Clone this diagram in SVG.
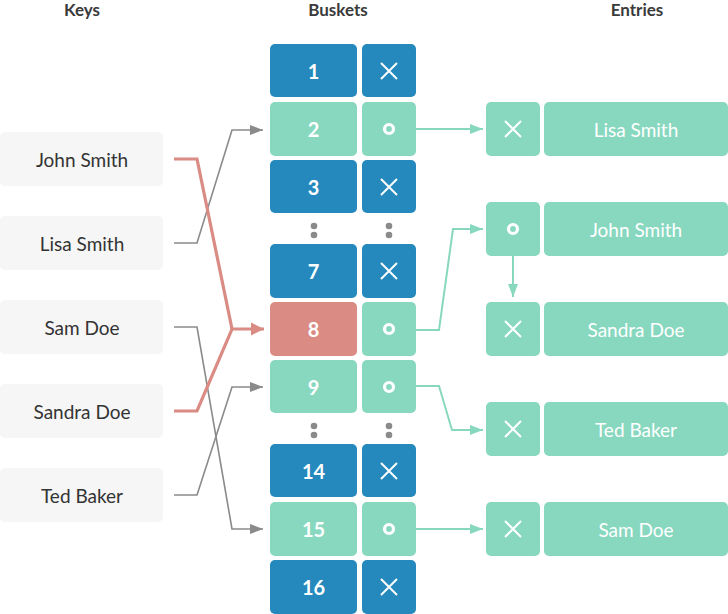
<svg xmlns="http://www.w3.org/2000/svg" width="728" height="614" viewBox="0 0 728 614">
<defs>
  <marker id="ag" markerWidth="14" markerHeight="12" refX="13" refY="6" orient="auto" markerUnits="userSpaceOnUse"><path d="M0,1 L13,6 L0,11 Z" fill="#8a8a8a"/></marker>
  <marker id="ar" markerWidth="14" markerHeight="14" refX="13" refY="7" orient="auto" markerUnits="userSpaceOnUse"><path d="M0,0.5 L13,7 L0,13.5 Z" fill="#d98b84"/></marker>
  <marker id="at" markerWidth="14" markerHeight="12" refX="13" refY="6" orient="auto" markerUnits="userSpaceOnUse"><path d="M0,1 L13,6 L0,11 Z" fill="#88d8c0"/></marker>
  <g id="xi"><path d="M-8,-8 L8,8 M8,-8 L-8,8" stroke="#fff" stroke-width="2" fill="none"/></g>
  <g id="oi"><circle r="4.5" stroke="#fff" stroke-width="3.2" fill="none"/></g>
</defs>
<style>
  .hdr{font-family:Lato,"Open Sans",sans-serif;font-weight:bold;font-size:17px;fill:#3a3a3a;text-anchor:middle}
  .key{fill:#f6f6f6}
  .kt{font-family:Lato,"Open Sans",sans-serif;font-size:19px;fill:#333;text-anchor:middle;dominant-baseline:central}
  .blue{fill:#2589bd}
  .green{fill:#88d8c0}
  .red{fill:#d98b84}
  .bt{font-family:Lato,"Open Sans",sans-serif;font-weight:bold;font-size:20px;fill:#fff;text-anchor:middle;dominant-baseline:central}
  .et{font-family:Lato,"Open Sans",sans-serif;font-size:19px;fill:#fff;text-anchor:middle;dominant-baseline:central}
  .dot{fill:#8a8a8a}
  .cg{fill:none;stroke:#8a8a8a;stroke-width:1.6}
  .cr{fill:none;stroke:#d98b84;stroke-width:3.2}
  .ct{fill:none;stroke:#88d8c0;stroke-width:2}
</style>
<rect width="728" height="614" fill="#fff"/>
<text class="hdr" x="82" y="16">Keys</text>
<text class="hdr" x="338" y="16">Buskets</text>
<text class="hdr" x="637" y="16">Entries</text>

<g id="keys">
  <g id="key-john"><rect class="key" x="0" y="132" width="163" height="54" rx="5"/><text class="kt" x="82" y="159">John Smith</text></g>
  <g id="key-lisa"><rect class="key" x="0" y="216" width="163" height="54" rx="5"/><text class="kt" x="82" y="243">Lisa Smith</text></g>
  <g id="key-sam"><rect class="key" x="0" y="300" width="163" height="54" rx="5"/><text class="kt" x="82" y="327">Sam Doe</text></g>
  <g id="key-sandra"><rect class="key" x="0" y="384" width="163" height="54" rx="5"/><text class="kt" x="82" y="411">Sandra Doe</text></g>
  <g id="key-ted"><rect class="key" x="0" y="468" width="163" height="54" rx="5"/><text class="kt" x="82" y="495">Ted Baker</text></g>
</g>

<g id="buckets">
  <g id="b1"><rect class="blue" x="270" y="44" width="87" height="53" rx="5"/><rect class="blue" x="362" y="44" width="54" height="53" rx="5"/><text class="bt" x="313.5" y="71">1</text><use href="#xi" x="389" y="71"/></g>
  <g id="b2"><rect class="green" x="270" y="102" width="87" height="54" rx="5"/><rect class="green" x="362" y="102" width="54" height="54" rx="5"/><text class="bt" x="313.5" y="129">2</text><use href="#oi" x="389" y="129"/></g>
  <g id="b3"><rect class="blue" x="270" y="160" width="87" height="53" rx="5"/><rect class="blue" x="362" y="160" width="54" height="53" rx="5"/><text class="bt" x="313.5" y="187">3</text><use href="#xi" x="389" y="187"/></g>
  <g id="dots1"><circle class="dot" cx="314" cy="226" r="3.3"/><circle class="dot" cx="314" cy="235" r="3.3"/><circle class="dot" cx="389" cy="226" r="3.3"/><circle class="dot" cx="389" cy="235" r="3.3"/></g>
  <g id="b7"><rect class="blue" x="270" y="244" width="87" height="54" rx="5"/><rect class="blue" x="362" y="244" width="54" height="54" rx="5"/><text class="bt" x="313.5" y="271">7</text><use href="#xi" x="389" y="271"/></g>
  <g id="b8"><rect class="red" x="270" y="302" width="87" height="54" rx="5"/><rect class="green" x="362" y="302" width="54" height="54" rx="5"/><text class="bt" x="313.5" y="329">8</text><use href="#oi" x="389" y="329"/></g>
  <g id="b9"><rect class="green" x="270" y="360" width="87" height="53" rx="5"/><rect class="green" x="362" y="360" width="54" height="53" rx="5"/><text class="bt" x="313.5" y="387">9</text><use href="#oi" x="389" y="387"/></g>
  <g id="dots2"><circle class="dot" cx="314" cy="426" r="3.3"/><circle class="dot" cx="314" cy="435" r="3.3"/><circle class="dot" cx="389" cy="426" r="3.3"/><circle class="dot" cx="389" cy="435" r="3.3"/></g>
  <g id="b14"><rect class="blue" x="270" y="444" width="87" height="53" rx="5"/><rect class="blue" x="362" y="444" width="54" height="53" rx="5"/><text class="bt" x="313.5" y="471">14</text><use href="#xi" x="389" y="471"/></g>
  <g id="b15"><rect class="green" x="270" y="502" width="87" height="54" rx="5"/><rect class="green" x="362" y="502" width="54" height="54" rx="5"/><text class="bt" x="313.5" y="529">15</text><use href="#oi" x="389" y="529"/></g>
  <g id="b16"><rect class="blue" x="270" y="560" width="87" height="54" rx="5"/><rect class="blue" x="362" y="560" width="54" height="54" rx="5"/><text class="bt" x="313.5" y="587">16</text><use href="#xi" x="389" y="587"/></g>
</g>

<g id="entries">
  <g id="e-lisa"><rect class="green" x="486" y="102" width="54" height="54" rx="5"/><use href="#xi" x="513" y="129"/><rect class="green" x="544" y="102" width="184" height="54" rx="5"/><text class="et" x="636" y="129">Lisa Smith</text></g>
  <g id="e-john"><rect class="green" x="486" y="202" width="54" height="54" rx="5"/><use href="#oi" x="513" y="229"/><rect class="green" x="544" y="202" width="184" height="54" rx="5"/><text class="et" x="636" y="229">John Smith</text></g>
  <g id="e-sandra"><rect class="green" x="486" y="302" width="54" height="54" rx="5"/><use href="#xi" x="513" y="329"/><rect class="green" x="544" y="302" width="184" height="54" rx="5"/><text class="et" x="636" y="329">Sandra Doe</text></g>
  <g id="e-ted"><rect class="green" x="486" y="402" width="54" height="54" rx="5"/><use href="#xi" x="513" y="429"/><rect class="green" x="544" y="402" width="184" height="54" rx="5"/><text class="et" x="636" y="429">Ted Baker</text></g>
  <g id="e-sam"><rect class="green" x="486" y="502" width="54" height="54" rx="5"/><use href="#xi" x="513" y="529"/><rect class="green" x="544" y="502" width="184" height="54" rx="5"/><text class="et" x="636" y="529">Sam Doe</text></g>
</g>

<g id="connectors">
  <path class="cg" d="M174,243 H197 L232,130 H263" marker-end="url(#ag)"/>
  <path class="cg" d="M174,327 H197 L232,529 H263" marker-end="url(#ag)"/>
  <path class="cg" d="M174,495 H197 L232,387 H263" marker-end="url(#ag)"/>
  <path class="cr" d="M174,159 H197 L232,329"/>
  <path class="cr" d="M174,411 H197 L232,329 H264" marker-end="url(#ar)"/>
  <path class="ct" d="M416,129 H483" marker-end="url(#at)"/>
  <path class="ct" d="M416,330 H439 L453,229 H483" marker-end="url(#at)"/>
  <path class="ct" d="M513,256 V297" marker-end="url(#at)"/>
  <path class="ct" d="M416,386 H439 L452,430 H483" marker-end="url(#at)"/>
  <path class="ct" d="M416,529 H483" marker-end="url(#at)"/>
</g>
</svg>
